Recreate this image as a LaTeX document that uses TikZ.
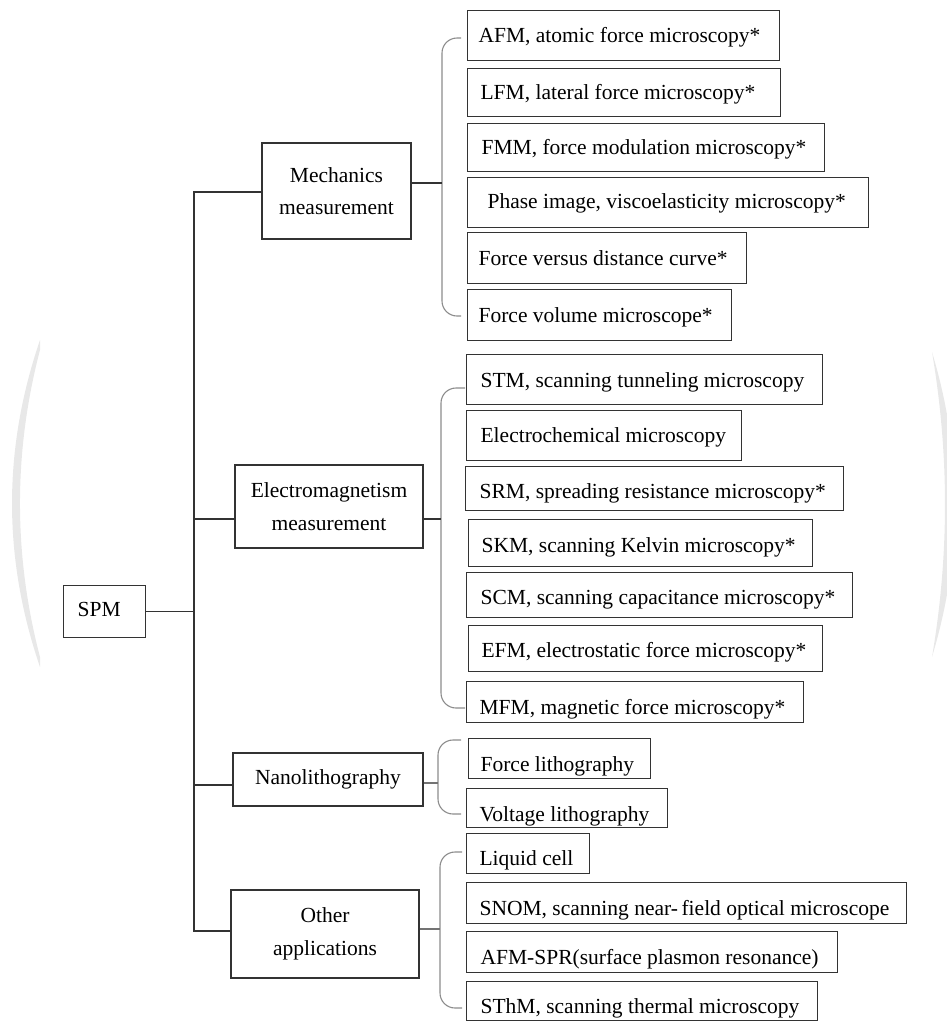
\documentclass[tikz,border=0pt]{standalone}
\usepackage{fontspec}
\setmainfont{Liberation Serif}

% leaf box: name, left, top, right, bottom, side padding, text lowering, text
\newcommand\leafnode[8]{%
  \pgfmathsetmacro\leafw{#4-#2}%
  \pgfmathsetmacro\leafh{#5-#3}%
  \pgfmathsetmacro\leaft{#4-#2-2*#6}%
  \pgfmathsetmacro\leafa{19.2+2*#7}%
  \node[leaf, inner xsep=#6pt, minimum width=\leafw pt, minimum height=\leafh pt,
        text height=\leafa pt] (#1) at (#2,#3) {\makebox[\leaft pt][l]{#8}};}

\begin{document}
\begin{tikzpicture}[x=1pt,y=-1pt,
  every node/.style={font=\fontsize{21.5}{32.5}\selectfont},
  frame/.style={draw=black!80, line width=1.2pt},
  leaf/.style={frame, anchor=north west, inner ysep=0pt, text depth=5pt},
  group/.style={frame, align=center, inner sep=0pt},
  link/.style={draw=black!80, line width=1.1pt},
  brace/.style={draw=black!45, line width=1.1pt, rounded corners=15pt},
  haze/.style={fill=black!9}]
\useasboundingbox (0,0) rectangle (947,1021);

% faint background arcs
\fill[haze] (40,340) .. controls (2.7,449) and (2.7,558) .. (40,667)
  -- (40,657) .. controls (13.3,555) and (13.3,452) .. (40,350) -- cycle;
\fill[haze] (932,352) .. controls (949.3,454) and (949.3,555) .. (932,657)
  .. controls (962.7,555) and (962.7,454) .. (932,352) -- cycle;

% root
\leafnode{spm}{63}{585}{145}{637}{14}{-2}{SPM}

% second level
\node[group, minimum width=149pt, minimum height=96pt] (mech) at (336.5,191) {Mechanics\\measurement};
\node[group, minimum width=188pt, minimum height=83pt] (em) at (329,506.5) {Electromagnetism\\measurement};
\node[group, minimum width=190pt, minimum height=53pt] (nano) at (328,779.5) {Nanolithography};
\node[group, minimum width=188pt, minimum height=88pt] (other) at (325,934) {Other\\applications};

% mechanics measurement
\leafnode{afm}{467}{10}{779}{60}{11}{0}{AFM, atomic force microscopy*}
\leafnode{lfm}{467}{68}{780}{116}{13}{0}{LFM, lateral force microscopy*}
\leafnode{fmm}{467}{123}{824}{171}{14}{0}{FMM, force modulation microscopy*}
\leafnode{phase}{467}{177}{868}{227}{20}{-1}{Phase image, viscoelasticity microscopy*}
\leafnode{fvd}{467}{232}{746}{283}{11}{0}{Force versus distance curve*}
\leafnode{fvol}{467}{289}{731}{340}{11}{0}{Force volume microscope*}

% electromagnetism measurement
\leafnode{stm}{466}{354}{822}{404}{14}{1}{STM, scanning tunneling microscopy}
\leafnode{echem}{466}{410}{741}{460}{14}{0}{Electrochemical microscopy}
\leafnode{srm}{465}{466}{843}{510}{14}{3}{SRM, spreading resistance microscopy*}
\leafnode{skm}{468}{519}{812}{566}{13}{2.5}{SKM, scanning Kelvin microscopy*}
\leafnode{scm}{466}{572}{852}{617}{14}{2}{SCM, scanning capacitance microscopy*}
\leafnode{efm}{468}{625}{822}{671}{13}{2}{EFM, electrostatic force microscopy*}
\leafnode{mfm}{466}{681}{803}{722}{13}{5}{MFM, magnetic force microscopy*}

% nanolithography
\leafnode{flith}{468}{738}{650}{778}{12}{5.5}{Force lithography}
\leafnode{vlith}{466}{788}{667}{827}{13}{6}{Voltage lithography}

% other applications
\leafnode{liq}{466}{833}{589}{873}{13}{5}{Liquid cell}
\leafnode{snom}{466}{882}{906}{923}{13}{5.5}{SNOM, scanning near-\,field optical microscope}
\leafnode{spr}{466}{931}{837}{972}{14}{5}{AFM-SPR(surface plasmon resonance)}
\leafnode{sthm}{466}{981}{817}{1020}{14}{5}{SThM, scanning thermal microscopy}

% trunk from the root to the four groups
\coordinate (trunk) at (194,192);
\draw[link] ([yshift=-1pt]mech.west) -- ([yshift=-1pt]mech.west -| trunk)
  -- ([yshift=3pt]other.west -| trunk) -- ([yshift=3pt]other.west);
\draw[link] (spm.east) -- (spm.east -| trunk);
\draw[link] ([yshift=-12.5pt]em.west) -- ([yshift=-12.5pt]em.west -| trunk);
\draw[link] ([yshift=-5.5pt]nano.west) -- ([yshift=-5.5pt]nano.west -| trunk);

% brace spines
\coordinate (s1) at (442,38);
\coordinate (s2) at (441,388);
\coordinate (s3) at (438,740);
\coordinate (s4) at (440,852);
\draw[brace] (461,38) -- (s1) -- (442,316) -- (461,316);
\draw[brace] (465,388) -- (s2) -- (441,708) -- (465,708);
\draw[brace] (461,740) -- (s3) -- (438,814) -- (461,814);
\draw[brace] (462,852) -- (s4) -- (440,1008) -- (462,1008);

% group to brace connectors
\draw[link] ([yshift=8pt]mech.east) -- ([yshift=8pt]mech.east -| s1);
\draw[link] ([yshift=-12.5pt]em.east) -- ([yshift=-12.5pt]em.east -| s2);
\draw[link, draw=black!55] ([yshift=-3.5pt]nano.east) -- ([yshift=-3.5pt]nano.east -| s3);
\draw[link, draw=black!55] ([yshift=5pt]other.east) -- ([yshift=5pt]other.east -| s4);
\end{tikzpicture}
\end{document}
